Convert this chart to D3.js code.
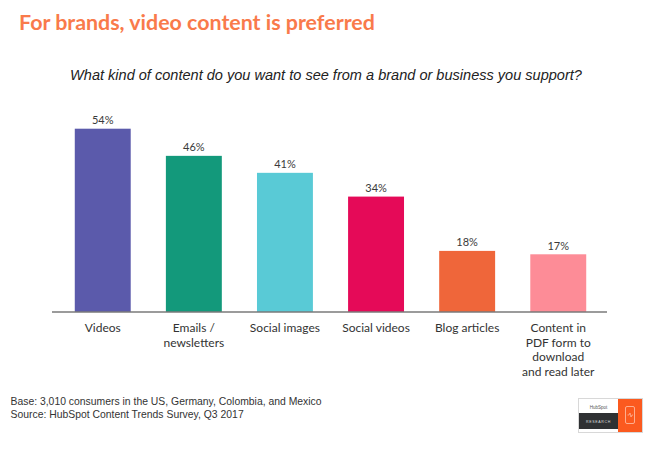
<!DOCTYPE html>
<html>
<head>
<meta charset="utf-8">
<script src="https://cdn.jsdelivr.net/npm/d3@7"></script>
<style>
  html, body { margin: 0; padding: 0; background: #ffffff; }
  svg { display: block; }
</style>
</head>
<body>
<svg id="chart" width="661" height="453"></svg>
<script>
// ---- data ----
const categories = ["Videos", "Emails / newsletters", "Social images", "Social videos", "Blog articles", "Content in PDF form to download and read later"];
const categoryLines = [["Videos"], ["Emails /", "newsletters"], ["Social images"], ["Social videos"], ["Blog articles"], ["Content in", "PDF form to", "download", "and read later"]];
const values = [54, 46, 41, 34, 18, 17];
const barColors = ["#5b5aab", "#13997b", "#59cad6", "#e50a58", "#ef663a", "#fd8c97"];
const titleText = "For brands, video content is preferred";
const subtitleText = "What kind of content do you want to see from a brand or business you support?";
const footnotes = ["Base: 3,010 consumers in the US, Germany, Colombia, and Mexico", "Source: HubSpot Content Trends Survey, Q3 2017"];

const svg = d3.select("#chart");

// fit a text element to a target width by adjusting font-size
function fitWidth(sel, target) {
  const node = sel.node();
  const w = node.getComputedTextLength();
  const fs = parseFloat(sel.attr("font-size"));
  if (w > 0) sel.attr("font-size", (fs * target / w).toFixed(2));
}

// ---- scales ----
const x = d3.scaleBand().domain(categories).range([52, 609]).paddingInner(0.386).paddingOuter(0.25);
const y = d3.scaleLinear().domain([0, 54]).range([312, 128.7]);

// ---- title & subtitle ----
const t = svg.append("text").attr("x", 19).attr("y", 29.5)
  .attr("font-family", "Lato, 'Open Sans', sans-serif").attr("font-weight", 700)
  .attr("font-size", 18).attr("fill", "#f97a4b").text(titleText);
fitWidth(t, 356);

const st = svg.append("text").attr("x", 326).attr("y", 80).attr("text-anchor", "middle")
  .attr("font-family", "'Liberation Sans', Arial, sans-serif").attr("font-style", "italic")
  .attr("font-size", 14).attr("fill", "#222").text(subtitleText);
fitWidth(st, 512);

// ---- bars ----
svg.append("g").selectAll("rect").data(values).join("rect")
  .attr("x", (d, i) => x(categories[i]))
  .attr("y", d => y(d))
  .attr("width", x.bandwidth())
  .attr("height", d => y(0) - y(d))
  .attr("fill", (d, i) => barColors[i]);

// value labels
svg.append("g").selectAll("text").data(values).join("text")
  .attr("x", (d, i) => x(categories[i]) + x.bandwidth() / 2)
  .attr("y", d => y(d) - 4.5)
  .attr("text-anchor", "middle")
  .attr("font-family", "Lato, 'Open Sans', sans-serif")
  .attr("font-size", 11).attr("fill", "#3a3a3a")
  .text(d => d + "%");

// ---- axis ----
const axis = svg.append("g").attr("transform", `translate(0,${y(0)})`)
  .call(d3.axisBottom(x).tickSize(0).tickFormat(""));
axis.select(".domain").attr("stroke", "#7a7a7a").attr("stroke-width", 1.5)
  .attr("d", `M${x.range()[0]},0H${x.range()[1] - 2}`);

// category labels
const lab = svg.append("g").selectAll("text").data(categories).join("text")
  .attr("x", d => x(d) + x.bandwidth() / 2)
  .attr("y", 332)
  .attr("text-anchor", "middle")
  .attr("font-family", "Lato, 'Open Sans', sans-serif")
  .attr("font-size", 12).attr("fill", "#333");
lab.each(function(d, i) {
  d3.select(this).selectAll("tspan").data(categoryLines[i]).join("tspan")
    .attr("x", x(d) + x.bandwidth() / 2)
    .attr("dy", (l, j) => j === 0 ? 0 : 14.5)
    .text(l => l);
});

// ---- footnotes ----
svg.append("g").selectAll("text").data(footnotes).join("text")
  .attr("x", 10.5).attr("y", (d, i) => 405 + i * 12.5)
  .attr("font-family", "'Liberation Sans', Arial, sans-serif")
  .attr("font-size", 10.4).attr("fill", "#333")
  .text(d => d);

// ---- logo ----
const logo = svg.append("g");
logo.append("rect").attr("x", 578.5).attr("y", 398.5).attr("width", 64).attr("height", 34)
  .attr("fill", "#fff").attr("stroke", "#d8d8d8").attr("stroke-width", 1);
logo.append("rect").attr("x", 579).attr("y", 413).attr("width", 39).attr("height", 16).attr("fill", "#2f3133");
logo.append("rect").attr("x", 618).attr("y", 399).attr("width", 24).attr("height", 33).attr("fill", "#fb5a1f");
logo.append("text").attr("x", 598.5).attr("y", 423).attr("text-anchor", "middle")
  .attr("font-family", "'Liberation Sans', Arial, sans-serif").attr("font-size", 3.6)
  .attr("letter-spacing", 0.6).attr("fill", "#ddd").text("RESEARCH");
logo.append("text").attr("x", 598.5).attr("y", 409).attr("text-anchor", "middle")
  .attr("font-family", "'Liberation Sans', Arial, sans-serif").attr("font-size", 4.5)
  .attr("fill", "#555").text("HubSpot");
logo.append("rect").attr("x", 625.5).attr("y", 406.5).attr("width", 9).attr("height", 17).attr("rx", 1.5)
  .attr("fill", "none").attr("stroke", "#ffd2bf").attr("stroke-width", 0.7);
logo.append("path").attr("d", "M627.5,415 L629,415 L630,413 L631,417 L632,415 L633,415")
  .attr("fill", "none").attr("stroke", "#ffd2bf").attr("stroke-width", 0.6);
</script>
</body>
</html>
